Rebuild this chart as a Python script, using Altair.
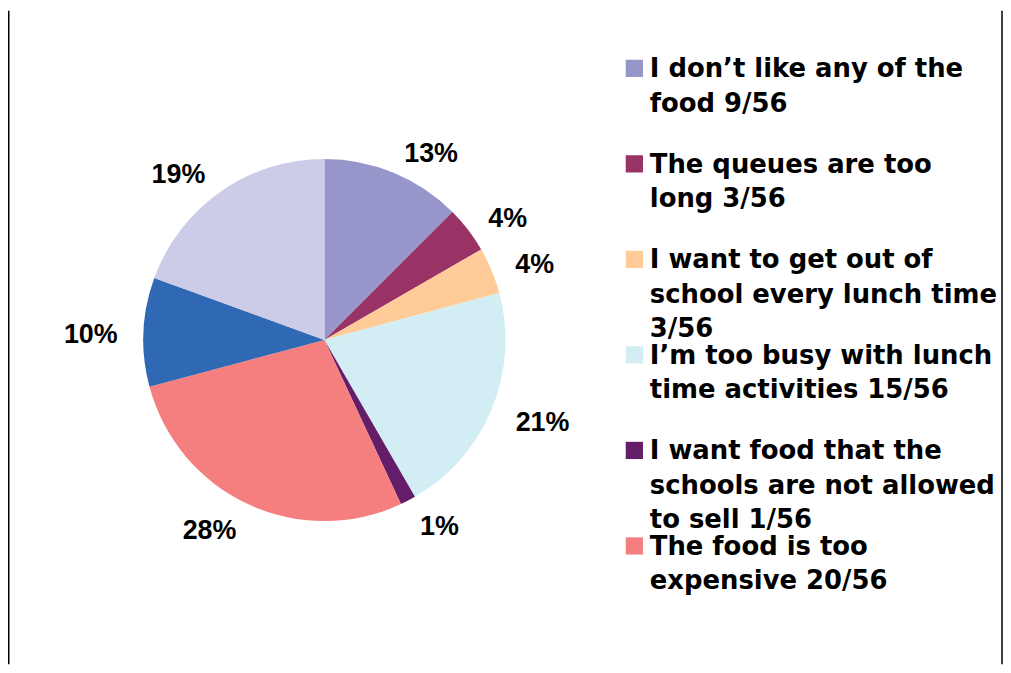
import altair as alt
import pandas as pd

# ---- data ----
categories = [
    "I don’t like any of the food 9/56",
    "The queues are too long 3/56",
    "I want to get out of school every lunch time 3/56",
    "I’m too busy with lunch time activities 15/56",
    "I want food that the schools are not allowed to sell 1/56",
    "The food is too expensive 20/56",
    "Other reason 7/56",
    "Other reason 14/56",
]
counts = [9, 3, 3, 15, 1, 20, 7, 14]
pct_labels = ["13%", "4%", "4%", "21%", "1%", "28%", "10%", "19%"]
colors = ["#9696CA", "#993366", "#FFCC99", "#D3EDF4", "#641E69", "#F47F7E", "#2F69B3", "#CDCCE8"]

legend_text = [
    "I don’t like any of the\nfood 9/56",
    "The queues are too\nlong 3/56",
    "I want to get out of\nschool every lunch time\n3/56",
    "I’m too busy with lunch\ntime activities 15/56",
    "I want food that the\nschools are not allowed\nto sell 1/56",
    "The food is too\nexpensive 20/56",
]

pie_df = pd.DataFrame({
    "idx": list(range(len(categories))),
    "category": categories,
    "count": counts,
    "pct": pct_labels,
})
leg_df = pd.DataFrame({
    "idx": list(range(len(legend_text))),
    "category": categories[: len(legend_text)],
    "label": legend_text,
})

W, H = 1000, 657
CX, CY = 318, 331
RX, RY = 207, 195   # label ring (pie is slightly elliptical in the original)

color_scale = alt.Scale(domain=categories, range=colors)

base = alt.Chart(pie_df)
arcs = base.mark_arc(outerRadius=182).encode(
    theta=alt.Theta("count:Q", stack=True),
    color=alt.Color("category:N", scale=color_scale, legend=None),
    order=alt.Order("idx:Q"),
    x=alt.value(CX),
    y=alt.value(CY),
)

# label placement: outside the pie, box pushed away from the pie like Excel does
labels = base.transform_joinaggregate(
    total="sum(count)"
).transform_window(
    cum="sum(count)", sort=[alt.SortField("idx")], frame=[None, 0]
).transform_calculate(
    ang="2*PI*(datum.cum - datum.count/2)/datum.total",
    hw="8*length(datum.pct)+4",
).transform_calculate(
    lx=f"{CX} + {RX}*sin(datum.ang) + (sin(datum.ang) >= 0 ? 1 : -1)*datum.hw",
    ly=f"{CY} - {RY}*cos(datum.ang) - 12*cos(datum.ang)",
).mark_text(
    font="Liberation Sans", fontWeight="bold", fontSize=27,
    color="black", align="center", baseline="middle", dy=4,
).encode(
    x=alt.X("lx:Q", scale=None, axis=None),
    y=alt.Y("ly:Q", scale=None, axis=None),
    text="pct:N",
)

yscale = alt.Scale(domain=[0, 5], range=[67, 547])
leg = alt.Chart(leg_df)
leg_sq = leg.mark_square(size=300, opacity=1, yOffset=-9).encode(
    x=alt.value(629.5),
    y=alt.Y("idx:Q", scale=yscale, axis=None),
    color=alt.Color("category:N", scale=color_scale, legend=None),
)
leg_txt = leg.mark_text(
    font="DejaVu Sans", fontWeight="bold", fontSize=26, align="left",
    baseline="alphabetic", lineBreak="\n", lineHeight=34.5, color="black",
).encode(
    x=alt.value(645),
    y=alt.Y("idx:Q", scale=yscale, axis=None),
    text="label:N",
)
legend_layer = alt.layer(leg_sq, leg_txt)

frame_df = pd.DataFrame({"pos": [0, 1]})
frame = alt.Chart(frame_df).mark_rule(color="black", strokeWidth=1.5).encode(
    x=alt.X("pos:Q", scale=alt.Scale(domain=[0, 1], range=[0.75, W - 1]), axis=None),
    y=alt.value(0),
    y2=alt.value(H),
)

chart = alt.layer(arcs, labels, legend_layer, frame).resolve_scale(
    x="independent", y="independent"
).properties(
    width=W, height=H, padding=0,
    autosize=alt.AutoSizeParams(type="fit", contains="padding"),
    background="white",
).configure_view(stroke=None)

chart.save("out.html", embed_options={"renderer": "svg", "actions": False})
